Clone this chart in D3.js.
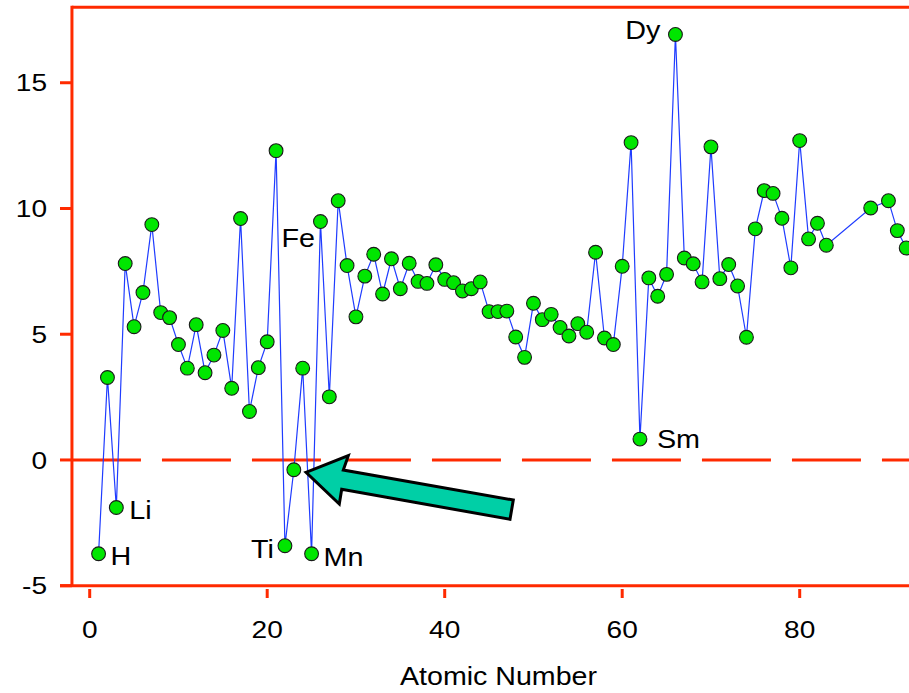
<!DOCTYPE html>
<html><head><meta charset="utf-8">
<script src="https://cdn.jsdelivr.net/npm/d3@7"></script>
<style>html,body{margin:0;padding:0;background:#fff;overflow:hidden}text{font-family:"Liberation Sans",Arial,sans-serif;fill:#000}</style>
</head><body>
<script>
const atomicNumbers = [1,2,3,4,5,6,7,8,9,10,11,12,13,14,15,16,17,18,19,20,21,22,23,24,25,26,27,28,29,30,31,32,33,34,35,36,37,38,39,40,41,42,43,44,45,46,47,48,49,50,51,52,53,54,55,56,57,58,59,60,61,62,63,64,65,66,67,68,69,70,71,72,73,74,75,76,77,78,79,80,81,82,83,88,90,91,92];
const values = [-3.73,3.28,-1.89,7.81,5.30,6.66,9.36,5.86,5.66,4.59,3.65,5.38,3.47,4.17,5.15,2.85,9.60,1.93,3.67,4.70,12.30,-3.41,-0.39,3.65,-3.73,9.48,2.51,10.31,7.73,5.69,7.31,8.18,6.60,8.00,6.81,7.82,7.10,7.02,7.76,7.18,7.05,6.72,6.81,7.08,5.90,5.90,5.92,4.89,4.08,6.23,5.58,5.79,5.27,4.93,5.42,5.08,8.26,4.85,4.59,7.70,12.62,0.83,7.24,6.51,7.38,16.92,8.03,7.80,7.08,12.45,7.21,7.77,6.92,4.88,9.19,10.71,10.60,9.61,7.64,12.70,8.79,9.41,8.54,10.02,10.31,9.12,8.43];
const xTicks = [0,20,40,60,80];
const yTicks = [-5,0,5,10,15];
const labelNames = ["H","Li","Ti","Mn","Fe","Sm","Dy"];
const labelZ = [1,3,22,25,26,62,66];
const xTitle = "Atomic Number";

const W = 909, H = 693;
const red = "#ff2a00";
const svg = d3.select("body").append("svg").attr("width", W).attr("height", H);
const x = d3.scaleLinear().domain([0, 80]).range([89.7, 799.7]);
const y = d3.scaleLinear().domain([-5, 18]).range([585.7, 7.3]);
const xL = x(-2), xR = W + 2;

function addText(px, py, str, size, anchor, sx, dy) {
  const g = svg.append("g").attr("transform", `translate(${px},${py}) scale(${sx},1)`);
  const t = g.append("text").attr("x", 0).attr("y", 0).attr("text-anchor", anchor).style("font-size", size + "px").text(str);
  if (dy) t.attr("dy", dy);
  return t;
}

// zero dashed line
svg.append("line").attr("x1", xL).attr("x2", xR).attr("y1", y(0)).attr("y2", y(0))
  .attr("stroke", red).attr("stroke-width", 3).attr("stroke-dasharray", "69 21");

// frame
svg.append("line").attr("x1", xL).attr("x2", xR).attr("y1", y(18)).attr("y2", y(18)).attr("stroke", red).attr("stroke-width", 3);
svg.append("line").attr("x1", xL).attr("x2", xL).attr("y1", y(18) - 1.5).attr("y2", y(-5)).attr("stroke", red).attr("stroke-width", 3);
svg.append("line").attr("x1", 60).attr("x2", xR).attr("y1", y(-5)).attr("y2", y(-5)).attr("stroke", red).attr("stroke-width", 3);

// y ticks
yTicks.forEach(t => {
  svg.append("line").attr("x1", 60).attr("x2", xL).attr("y1", y(t)).attr("y2", y(t)).attr("stroke", red).attr("stroke-width", 3);
  addText(47, y(t), String(t), 24, "end", 1.17, "0.36em");
});
// x ticks
xTicks.forEach(t => {
  svg.append("line").attr("x1", x(t)).attr("x2", x(t)).attr("y1", 589).attr("y2", 598).attr("stroke", red).attr("stroke-width", 3);
  addText(x(t), 638, String(t), 24, "middle", 1.17);
});
addText(498.5, 685, xTitle, 26, "middle", 1.1);

// data line
const pts = atomicNumbers.map((z, i) => [z, values[i]]);
svg.append("path").datum(pts)
  .attr("d", d3.line().x(d => x(d[0])).y(d => y(d[1])))
  .attr("fill", "none").attr("stroke", "#1f3cff").attr("stroke-width", 1.2);

// arrow
const arrowPts = [[306,472.3],[348.3,455.7],[343.3,470],[513.3,500],[510,519.3],[341.7,489.3],[339.3,504]];
svg.append("polygon").attr("points", arrowPts.map(p => p.join(",")).join(" "))
  .attr("fill", "#00cfa6").attr("stroke", "#000").attr("stroke-width", 3).attr("stroke-linejoin", "miter");

// markers
svg.append("g").selectAll("circle").data(pts).join("circle")
  .attr("cx", d => x(d[0])).attr("cy", d => y(d[1])).attr("r", 6.9)
  .attr("fill", "#00e600").attr("stroke", "#1a1a1a").attr("stroke-width", 1.1);

// element labels
const labelOffsets = {H:[12,11,"start"],Li:[13,12,"start"],Ti:[-11,12,"end"],Mn:[12,12,"start"],Fe:[-39,25,"start"],Sm:[17,9,"start"],Dy:[-15,5,"end"]};
labelNames.forEach((n, i) => {
  const z = labelZ[i];
  const v = values[atomicNumbers.indexOf(z)];
  const o = labelOffsets[n];
  addText(x(z) + o[0], y(v) + o[1], n, 25, o[2], 1.15);
});
</script>
</body></html>
